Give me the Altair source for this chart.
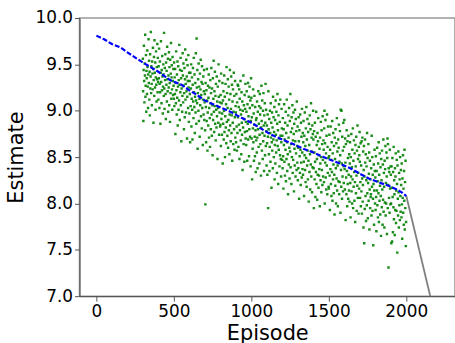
import altair as alt
import pandas as pd

# Blue dashed estimate line
blue_ep = [0, 50, 100, 158, 200, 263, 300, 350, 400, 476, 550, 600, 650, 700, 780, 863, 930,
           1000, 1060, 1130, 1200, 1270, 1335, 1400, 1480, 1571, 1650, 1700, 1758, 1820, 1886,
           1940, 1970, 2000]
blue_y = [9.81, 9.77, 9.72, 9.68, 9.63, 9.56, 9.52, 9.47, 9.42, 9.33, 9.28, 9.22, 9.17, 9.11,
          9.05, 8.99, 8.93, 8.87, 8.81, 8.74, 8.69, 8.64, 8.59, 8.55, 8.49, 8.43, 8.37, 8.32,
          8.27, 8.23, 8.19, 8.15, 8.12, 8.08]

# Gray line after episode 2000
gray_ep = [2000, 2180]
gray_y = [8.08, 6.82]

# Green scatter estimates (hundredths): 60 points per 100-episode block
block_start = [300, 400, 500, 600, 700, 800, 900, 1000, 1100, 1200, 1300, 1400, 1500,
               1600, 1700, 1800, 1900]
s0300 = [956, 921, 889, 944, 970, 932, 909, 951, 938, 982, 915, 927, 960, 899, 943, 935, 918, 965, 947, 926,
         903, 939, 977, 930, 954, 912, 942, 895, 961, 924, 937, 985, 919, 948, 929, 906, 953, 940, 923, 968,
         945, 887, 933, 958, 916, 976, 941, 925, 952, 901, 936, 964, 928, 910, 947, 934, 972, 920, 957, 931]
s0400 = [912, 948, 935, 967, 903, 929, 953, 920, 886, 941, 975, 931, 908, 944, 922, 959, 937, 897, 926, 950,
         939, 916, 984, 924, 902, 946, 933, 961, 918, 891, 952, 928, 943, 910, 969, 934, 921, 956, 899, 938,
         925, 963, 906, 947, 930, 888, 955, 919, 940, 973, 913, 936, 949, 923, 901, 958, 932, 917, 945, 927]
s0500 = [913, 952, 905, 936, 918, 945, 875, 930, 908, 964, 922, 896, 939, 914, 953, 884, 926, 948, 901, 933,
         911, 971, 928, 890, 944, 920, 957, 906, 935, 867, 924, 943, 899, 916, 962, 938, 909, 951, 927, 880,
         919, 946, 893, 934, 966, 912, 929, 898, 955, 921, 937, 870, 915, 949, 932, 903, 960, 925, 888, 941]
s0600 = [897, 932, 918, 866, 941, 905, 924, 950, 883, 913, 936, 901, 869, 928, 946, 910, 892, 957, 920, 904,
         939, 876, 915, 930, 898, 962, 911, 886, 978, 925, 908, 944, 859, 919, 934, 900, 951, 889, 926, 913,
         872, 940, 906, 923, 955, 894, 917, 931, 881, 948, 903, 929, 863, 912, 937, 896, 921, 944, 890, 909]
s0700 = [918, 879, 799, 930, 904, 866, 922, 889, 945, 911, 857, 898, 927, 884, 914, 939, 871, 903, 925, 892,
         861, 933, 908, 880, 919, 946, 896, 873, 924, 906, 852, 935, 890, 913, 954, 899, 877, 921, 905, 942,
         886, 916, 868, 929, 901, 882, 937, 894, 910, 848, 926, 903, 887, 950, 915, 874, 932, 898, 909, 883]
s0800 = [885, 917, 862, 940, 891, 908, 874, 897, 930, 843, 911, 886, 921, 869, 900, 938, 877, 915, 850, 894,
         929, 882, 907, 865, 947, 888, 919, 873, 903, 934, 860, 890, 926, 879, 912, 853, 896, 944, 884, 918,
         867, 902, 937, 876, 895, 928, 846, 910, 887, 923, 864, 899, 941, 880, 916, 858, 893, 932, 871, 905]
s0900 = [898, 866, 918, 883, 857, 909, 876, 928, 893, 927, 861, 904, 885, 923, 848, 913, 879, 901, 932, 868,
         896, 853, 920, 887, 874, 910, 836, 900, 882, 938, 864, 906, 891, 845, 917, 877, 902, 929, 870, 888,
         863, 899, 921, 878, 846, 907, 886, 930, 869, 894, 915, 851, 880, 926, 903, 872, 911, 840, 889, 935]
s1000 = [914, 870, 893, 826, 906, 859, 881, 923, 866, 897, 846, 885, 916, 872, 851, 904, 879, 834, 890, 868,
         892, 855, 910, 871, 838, 899, 880, 921, 861, 886, 905, 843, 874, 918, 896, 864, 903, 830, 882, 927,
         889, 857, 911, 876, 848, 900, 867, 919, 884, 835, 895, 873, 908, 852, 887, 929, 862, 901, 878, 841]
s1100 = [884, 865, 831, 896, 872, 795, 921, 880, 853, 891, 835, 861, 900, 876, 845, 908, 871, 887, 817, 866,
         898, 857, 882, 838, 915, 869, 893, 850, 877, 904, 826, 863, 890, 843, 911, 874, 855, 899, 868, 833,
         886, 918, 862, 879, 821, 895, 858, 907, 870, 840, 888, 852, 912, 873, 848, 829, 866, 902, 881, 847]
s1200 = [873, 838, 892, 851, 816, 880, 863, 907, 845, 869, 830, 887, 858, 899, 824, 876, 848, 912, 866, 835,
         884, 853, 810, 895, 871, 842, 903, 860, 827, 889, 856, 918, 839, 877, 864, 821, 893, 850, 881, 906,
         833, 868, 847, 898, 875, 813, 886, 859, 841, 901, 867, 829, 891, 854, 878, 836, 910, 862, 844, 883]
s1300 = [825, 860, 838, 893, 867, 805, 879, 851, 833, 896, 858, 820, 887, 844, 872, 828, 902, 855, 837, 876,
         831, 866, 889, 845, 808, 873, 852, 898, 836, 862, 823, 881, 849, 904, 818, 869, 841, 891, 857, 826,
         877, 846, 802, 886, 863, 834, 895, 853, 815, 880, 842, 908, 829, 871, 856, 812, 884, 839, 875, 900]
s1400 = [869, 838, 795, 878, 855, 826, 887, 845, 807, 872, 834, 899, 821, 863, 848, 804, 876, 831, 867, 892,
         817, 852, 830, 837, 859, 797, 871, 843, 825, 888, 850, 812, 879, 836, 864, 820, 894, 847, 829, 868,
         858, 823, 881, 900, 800, 865, 844, 890, 828, 854, 815, 873, 841, 896, 810, 861, 833, 883, 849, 818]
s1500 = [816, 851, 874, 830, 793, 858, 837, 883, 821, 847, 808, 866, 834, 889, 803, 854, 826, 876, 842, 811,
         862, 831, 788, 871, 848, 819, 880, 838, 800, 865, 827, 892, 814, 856, 841, 797, 869, 824, 860, 885,
         810, 845, 823, 878, 852, 790, 901, 836, 818, 900, 843, 805, 872, 829, 857, 813, 887, 840, 822, 861]
s1600 = [890, 837, 815, 870, 844, 782, 864, 828, 810, 879, 835, 797, 867, 821, 849, 805, 873, 831, 814, 853,
         802, 843, 866, 822, 785, 850, 829, 875, 813, 839, 800, 858, 826, 881, 795, 846, 818, 868, 834, 803,
         854, 823, 780, 863, 840, 811, 872, 830, 792, 857, 819, 884, 806, 848, 833, 789, 861, 816, 852, 877]
s1700 = [845, 806, 823, 865, 797, 841, 813, 867, 789, 827, 871, 802, 820, 856, 774, 836, 862, 757, 829, 794,
         869, 844, 808, 853, 781, 825, 840, 798, 876, 811, 849, 784, 822, 864, 803, 832, 855, 772, 815, 846,
         795, 826, 807, 810, 838, 787, 873, 818, 850, 792, 831, 805, 755, 821, 842, 777, 814, 858, 835, 800]
s1800 = [828, 793, 851, 807, 770, 835, 814, 860, 798, 824, 785, 843, 811, 866, 780, 831, 803, 854, 819, 788,
         839, 808, 765, 848, 825, 796, 857, 815, 777, 842, 804, 869, 791, 833, 818, 774, 846, 801, 837, 862,
         787, 822, 800, 855, 829, 767, 849, 870, 795, 864, 820, 731, 838, 806, 834, 790, 858, 816, 799, 840]
s1900 = [831, 800, 757, 840, 817, 759, 849, 807, 769, 834, 796, 861, 783, 825, 810, 766, 838, 793, 829, 854,
         779, 814, 792, 847, 821, 747, 841, 805, 787, 856, 812, 774, 833, 798, 826, 782, 850, 808, 791, 836,
         820, 785, 843, 799, 762, 827, 806, 852, 790, 816, 777, 835, 803, 858, 772, 823, 795, 846, 754, 780]

blocks = [s0300, s0400, s0500, s0600, s0700, s0800, s0900, s1000, s1100, s1200,
          s1300, s1400, s1500, s1600, s1700, s1800, s1900]

scatter_ep, scatter_y = [], []
for start, vals in zip(block_start, blocks):
    n = len(vals)
    for k, v in enumerate(vals):
        scatter_ep.append(start + k * 100.0 / n)
        scatter_y.append(v / 100.0)

df_sc = pd.DataFrame({"episode": scatter_ep, "estimate": scatter_y})
df_blue = pd.DataFrame({"episode": blue_ep, "estimate": blue_y})
df_gray = pd.DataFrame({"episode": gray_ep, "estimate": gray_y})

xs = alt.Scale(domain=[-109, 2314], nice=False, zero=False)
ys = alt.Scale(domain=[7.0, 10.0], nice=False, zero=False)

xax = alt.Axis(title="Episode", values=[0, 500, 1000, 1500, 2000], format="d", grid=False,
               labelFontSize=17, titleFontSize=21, labelPadding=2, titlePadding=4,
               tickSize=5, labelFlush=False)
yax = alt.Axis(title="Estimate", values=[7.0, 7.5, 8.0, 8.5, 9.0, 9.5, 10.0], format=".1f",
               grid=False, labelFontSize=17, titleFontSize=21, labelPadding=2,
               titlePadding=8, tickSize=5, labelFlush=False)

pts = alt.Chart(df_sc).mark_square(size=6, color="#008000", opacity=0.9, clip=True).encode(
    x=alt.X("episode:Q", scale=xs, axis=xax),
    y=alt.Y("estimate:Q", scale=ys, axis=yax),
)
blue = alt.Chart(df_blue).mark_line(color="#0000ff", strokeWidth=2.2, strokeDash=[5, 2], clip=True).encode(
    x=alt.X("episode:Q", scale=xs),
    y=alt.Y("estimate:Q", scale=ys),
)
gray = alt.Chart(df_gray).mark_line(color="#808080", strokeWidth=1.8, clip=True).encode(
    x=alt.X("episode:Q", scale=xs),
    y=alt.Y("estimate:Q", scale=ys),
)

chart = (
    alt.layer(pts, blue, gray)
    .properties(width=378, height=280, autosize=alt.AutoSizeParams(type="none"),
                padding={"left": 80, "top": 17, "right": 0, "bottom": 46},
                background="white")
    .configure_view(stroke="#999999", strokeWidth=1.5)
    .configure_axis(domainColor="#555555", tickColor="#555555", labelColor="black",
                    titleColor="black", labelFont="DejaVu Sans", titleFont="DejaVu Sans",
                    titleFontWeight="normal", domainWidth=1.2)
)

chart.save("out.html", embed_options={"renderer": "svg", "actions": False})
